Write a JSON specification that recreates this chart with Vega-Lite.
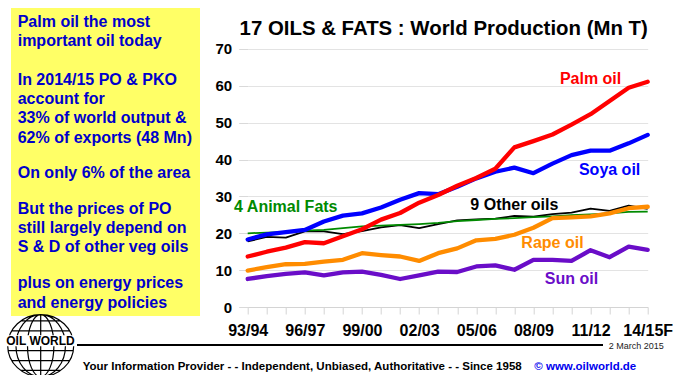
{
  "$schema": "https://vega.github.io/schema/vega-lite/v6.json",
  "padding": {"left": 5, "top": 8, "right": 0, "bottom": 0},
  "background": "white",
  "config": {
    "view": {"stroke": null},
    "font": "Liberation Sans",
    "axis": {"labelFont": "Liberation Sans", "titleFont": "Liberation Sans"},
    "title": {"font": "Liberation Sans"}
  },
  "datasets": {
    "production": [
      {"season":"93/94","oil":"9 Other oils","mt":17.8},{"season":"94/95","oil":"9 Other oils","mt":19.0},{"season":"95/96","oil":"9 Other oils","mt":18.8},{"season":"96/97","oil":"9 Other oils","mt":20.5},{"season":"97/98","oil":"9 Other oils","mt":20.5},{"season":"98/99","oil":"9 Other oils","mt":19.8},{"season":"99/00","oil":"9 Other oils","mt":20.6},{"season":"00/01","oil":"9 Other oils","mt":21.6},{"season":"01/02","oil":"9 Other oils","mt":22.2},{"season":"02/03","oil":"9 Other oils","mt":21.4},{"season":"03/04","oil":"9 Other oils","mt":22.5},{"season":"04/05","oil":"9 Other oils","mt":23.5},{"season":"05/06","oil":"9 Other oils","mt":23.8},{"season":"06/07","oil":"9 Other oils","mt":24.0},{"season":"07/08","oil":"9 Other oils","mt":24.7},{"season":"08/09","oil":"9 Other oils","mt":24.5},{"season":"09/10","oil":"9 Other oils","mt":25.2},{"season":"10/11","oil":"9 Other oils","mt":25.6},{"season":"11/12","oil":"9 Other oils","mt":26.7},{"season":"12/13","oil":"9 Other oils","mt":26.1},{"season":"13/14","oil":"9 Other oils","mt":27.5},{"season":"14/15F","oil":"9 Other oils","mt":26.6},
      {"season":"93/94","oil":"4 Animal Fats","mt":20.0},{"season":"94/95","oil":"4 Animal Fats","mt":20.2},{"season":"95/96","oil":"4 Animal Fats","mt":20.4},{"season":"96/97","oil":"4 Animal Fats","mt":20.7},{"season":"97/98","oil":"4 Animal Fats","mt":20.9},{"season":"98/99","oil":"4 Animal Fats","mt":21.4},{"season":"99/00","oil":"4 Animal Fats","mt":21.9},{"season":"00/01","oil":"4 Animal Fats","mt":22.1},{"season":"01/02","oil":"4 Animal Fats","mt":22.3},{"season":"02/03","oil":"4 Animal Fats","mt":22.5},{"season":"03/04","oil":"4 Animal Fats","mt":22.8},{"season":"04/05","oil":"4 Animal Fats","mt":23.3},{"season":"05/06","oil":"4 Animal Fats","mt":23.6},{"season":"06/07","oil":"4 Animal Fats","mt":23.9},{"season":"07/08","oil":"4 Animal Fats","mt":24.1},{"season":"08/09","oil":"4 Animal Fats","mt":24.4},{"season":"09/10","oil":"4 Animal Fats","mt":24.6},{"season":"10/11","oil":"4 Animal Fats","mt":24.9},{"season":"11/12","oil":"4 Animal Fats","mt":25.1},{"season":"12/13","oil":"4 Animal Fats","mt":25.4},{"season":"13/14","oil":"4 Animal Fats","mt":25.8},{"season":"14/15F","oil":"4 Animal Fats","mt":25.9},
      {"season":"93/94","oil":"Rape oil","mt":9.9},{"season":"94/95","oil":"Rape oil","mt":10.8},{"season":"95/96","oil":"Rape oil","mt":11.6},{"season":"96/97","oil":"Rape oil","mt":11.7},{"season":"97/98","oil":"Rape oil","mt":12.3},{"season":"98/99","oil":"Rape oil","mt":12.8},{"season":"99/00","oil":"Rape oil","mt":14.6},{"season":"00/01","oil":"Rape oil","mt":14.1},{"season":"01/02","oil":"Rape oil","mt":13.7},{"season":"02/03","oil":"Rape oil","mt":12.5},{"season":"03/04","oil":"Rape oil","mt":14.6},{"season":"04/05","oil":"Rape oil","mt":15.9},{"season":"05/06","oil":"Rape oil","mt":18.1},{"season":"06/07","oil":"Rape oil","mt":18.5},{"season":"07/08","oil":"Rape oil","mt":19.6},{"season":"08/09","oil":"Rape oil","mt":21.5},{"season":"09/10","oil":"Rape oil","mt":24.1},{"season":"10/11","oil":"Rape oil","mt":24.3},{"season":"11/12","oil":"Rape oil","mt":24.6},{"season":"12/13","oil":"Rape oil","mt":25.4},{"season":"13/14","oil":"Rape oil","mt":26.8},{"season":"14/15F","oil":"Rape oil","mt":27.2},
      {"season":"93/94","oil":"Sun oil","mt":7.6},{"season":"94/95","oil":"Sun oil","mt":8.4},{"season":"95/96","oil":"Sun oil","mt":9.0},{"season":"96/97","oil":"Sun oil","mt":9.4},{"season":"97/98","oil":"Sun oil","mt":8.6},{"season":"98/99","oil":"Sun oil","mt":9.4},{"season":"99/00","oil":"Sun oil","mt":9.6},{"season":"00/01","oil":"Sun oil","mt":8.7},{"season":"01/02","oil":"Sun oil","mt":7.6},{"season":"02/03","oil":"Sun oil","mt":8.6},{"season":"03/04","oil":"Sun oil","mt":9.6},{"season":"04/05","oil":"Sun oil","mt":9.5},{"season":"05/06","oil":"Sun oil","mt":11.0},{"season":"06/07","oil":"Sun oil","mt":11.3},{"season":"07/08","oil":"Sun oil","mt":10.1},{"season":"08/09","oil":"Sun oil","mt":12.8},{"season":"09/10","oil":"Sun oil","mt":12.8},{"season":"10/11","oil":"Sun oil","mt":12.5},{"season":"11/12","oil":"Sun oil","mt":15.4},{"season":"12/13","oil":"Sun oil","mt":13.5},{"season":"13/14","oil":"Sun oil","mt":16.4},{"season":"14/15F","oil":"Sun oil","mt":15.5},
      {"season":"93/94","oil":"Soya oil","mt":18.3},{"season":"94/95","oil":"Soya oil","mt":19.7},{"season":"95/96","oil":"Soya oil","mt":20.3},{"season":"96/97","oil":"Soya oil","mt":20.9},{"season":"97/98","oil":"Soya oil","mt":23.2},{"season":"98/99","oil":"Soya oil","mt":24.8},{"season":"99/00","oil":"Soya oil","mt":25.4},{"season":"00/01","oil":"Soya oil","mt":27.0},{"season":"01/02","oil":"Soya oil","mt":29.1},{"season":"02/03","oil":"Soya oil","mt":30.9},{"season":"03/04","oil":"Soya oil","mt":30.6},{"season":"04/05","oil":"Soya oil","mt":32.6},{"season":"05/06","oil":"Soya oil","mt":34.9},{"season":"06/07","oil":"Soya oil","mt":36.7},{"season":"07/08","oil":"Soya oil","mt":37.8},{"season":"08/09","oil":"Soya oil","mt":36.3},{"season":"09/10","oil":"Soya oil","mt":38.9},{"season":"10/11","oil":"Soya oil","mt":41.2},{"season":"11/12","oil":"Soya oil","mt":42.4},{"season":"12/13","oil":"Soya oil","mt":42.4},{"season":"13/14","oil":"Soya oil","mt":44.4},{"season":"14/15F","oil":"Soya oil","mt":46.7},
      {"season":"93/94","oil":"Palm oil","mt":13.7},{"season":"94/95","oil":"Palm oil","mt":15.0},{"season":"95/96","oil":"Palm oil","mt":16.1},{"season":"96/97","oil":"Palm oil","mt":17.6},{"season":"97/98","oil":"Palm oil","mt":17.3},{"season":"98/99","oil":"Palm oil","mt":19.2},{"season":"99/00","oil":"Palm oil","mt":21.1},{"season":"00/01","oil":"Palm oil","mt":23.7},{"season":"01/02","oil":"Palm oil","mt":25.5},{"season":"02/03","oil":"Palm oil","mt":28.3},{"season":"03/04","oil":"Palm oil","mt":30.4},{"season":"04/05","oil":"Palm oil","mt":32.9},{"season":"05/06","oil":"Palm oil","mt":35.0},{"season":"06/07","oil":"Palm oil","mt":37.5},{"season":"07/08","oil":"Palm oil","mt":43.3},{"season":"08/09","oil":"Palm oil","mt":45.0},{"season":"09/10","oil":"Palm oil","mt":46.8},{"season":"10/11","oil":"Palm oil","mt":49.5},{"season":"11/12","oil":"Palm oil","mt":52.3},{"season":"12/13","oil":"Palm oil","mt":55.9},{"season":"13/14","oil":"Palm oil","mt":59.5},{"season":"14/15F","oil":"Palm oil","mt":61.1}
    ],
    "labels": [
      {"oil":"Palm oil","season":"11/12","mt":61.9},
      {"oil":"Soya oil","season":"12/13","mt":37.25},
      {"oil":"9 Other oils","season":"07/08","mt":27.75},
      {"oil":"4 Animal Fats","season":"95/96","mt":27.1},
      {"oil":"Rape oil","season":"09/10","mt":17.4},
      {"oil":"Sun oil","season":"10/11","mt":7.7}
    ]
  },
  "bounds": "flush",
  "spacing": 47.7,
  "hconcat": [
    {
      "width": 189,
      "height": 308,
      "view": {"fill": "#ffff66", "stroke": null},
      "data": {"values": [{}]},
      "layer": [
        {
          "mark": {"type": "text", "text": ["Palm oil the most", "important oil today"], "align": "left", "baseline": "middle", "fontSize": 16, "fontWeight": "bold", "font": "Liberation Sans", "color": "#0000cc", "lineHeight": 19.2},
          "encoding": {
            "x": {"datum": 6.7, "type": "quantitative", "scale": {"domain": [0, 189], "nice": false, "zero": false}, "axis": null},
            "y": {"datum": 13.7, "type": "quantitative", "scale": {"domain": [0, 308], "nice": false, "zero": false, "reverse": true}, "axis": null}
          }
        },
        {
          "mark": {"type": "text", "text": ["In 2014/15 PO & PKO", "account for", "33% of world output &", "62% of exports (48 Mn)"], "align": "left", "baseline": "middle", "fontSize": 16, "fontWeight": "bold", "font": "Liberation Sans", "color": "#0000cc", "lineHeight": 19.2},
          "encoding": {"x": {"datum": 6.7, "type": "quantitative"}, "y": {"datum": 72.0, "type": "quantitative"}}
        },
        {
          "mark": {"type": "text", "text": "On only 6% of the area", "align": "left", "baseline": "middle", "fontSize": 16, "fontWeight": "bold", "font": "Liberation Sans", "color": "#0000cc"},
          "encoding": {"x": {"datum": 6.7, "type": "quantitative"}, "y": {"datum": 165.0, "type": "quantitative"}}
        },
        {
          "mark": {"type": "text", "text": ["But the prices of PO", "still largely depend on", "S & D of other veg oils"], "align": "left", "baseline": "middle", "fontSize": 16, "fontWeight": "bold", "font": "Liberation Sans", "color": "#0000cc", "lineHeight": 19.2},
          "encoding": {"x": {"datum": 6.7, "type": "quantitative"}, "y": {"datum": 201.0, "type": "quantitative"}}
        },
        {
          "mark": {"type": "text", "text": ["plus on energy prices", "and energy policies"], "align": "left", "baseline": "middle", "fontSize": 16, "fontWeight": "bold", "font": "Liberation Sans", "color": "#0000cc", "lineHeight": 19.2},
          "encoding": {"x": {"datum": 6.7, "type": "quantitative"}, "y": {"datum": 275.4, "type": "quantitative"}}
        },
        {
          "mark": {
            "type": "point",
            "shape": "M-1,0A1,0.94,0,1,1,1,0A1,0.94,0,1,1,-1,0ZM0,-0.94L0,0.94M0,-0.94A0.4,0.94,0,0,0,0,0.94A0.4,0.94,0,0,0,0,-0.94M0,-0.94A0.75,0.94,0,0,0,0,0.94A0.75,0.94,0,0,0,0,-0.94M-0.6,-0.75L0.6,-0.75M-0.88,-0.45L0.88,-0.45M-0.988,-0.15L0.988,-0.15M-0.988,0.15L0.988,0.15M-0.88,0.45L0.88,0.45M-0.6,0.75L0.6,0.75",
            "size": 4356,
            "filled": false,
            "color": "#000000",
            "strokeWidth": 1.2,
            "opacity": 1
          },
          "encoding": {"x": {"datum": 29.7, "type": "quantitative"}, "y": {"datum": 337.7, "type": "quantitative"}}
        },
        {
          "mark": {"type": "point", "shape": "M-1,-0.16L1,-0.16L1,0.16L-1,0.16Z", "size": 4761, "filled": true, "color": "#ffffff", "opacity": 1, "strokeWidth": 0},
          "encoding": {"x": {"datum": 29.5, "type": "quantitative"}, "y": {"datum": 332.7, "type": "quantitative"}}
        },
        {
          "mark": {"type": "text", "text": "OIL WORLD", "align": "center", "baseline": "middle", "fontSize": 12, "fontWeight": "bold", "font": "Liberation Sans", "color": "#000000"},
          "encoding": {"x": {"datum": 29.5, "type": "quantitative"}, "y": {"datum": 333.2, "type": "quantitative"}}
        },
        {
          "mark": {"type": "rule", "color": "#000000", "strokeWidth": 2},
          "encoding": {"x": {"datum": 66, "type": "quantitative"}, "x2": {"datum": 592}, "y": {"datum": 337, "type": "quantitative"}}
        },
        {
          "mark": {"type": "text", "text": "2 March 2015", "align": "left", "baseline": "middle", "fontSize": 9, "font": "Liberation Sans", "color": "#222222"},
          "encoding": {"x": {"datum": 597.7, "type": "quantitative"}, "y": {"datum": 337.7, "type": "quantitative"}}
        },
        {
          "mark": {"type": "text", "text": "Your Information Provider - - Independent, Unbiased, Authoritative - - Since 1958", "align": "left", "baseline": "middle", "fontSize": 11.5, "fontWeight": "bold", "font": "Liberation Sans", "color": "#000000"},
          "encoding": {"x": {"datum": 71.7, "type": "quantitative"}, "y": {"datum": 358.7, "type": "quantitative"}}
        },
        {
          "mark": {"type": "text", "text": "© www.oilworld.de", "align": "left", "baseline": "middle", "fontSize": 11.5, "fontWeight": "bold", "font": "Liberation Sans", "color": "#0000ee"},
          "encoding": {"x": {"datum": 523.3, "type": "quantitative"}, "y": {"datum": 358.7, "type": "quantitative"}}
        }
      ]
    },
    {
      "width": 400,
      "height": 299,
      "view": {"stroke": null},
      "title": {
        "text": "17 OILS & FATS : World Production (Mn T)",
        "fontSize": 20.4,
        "fontWeight": "bold",
        "font": "Liberation Sans",
        "color": "#000000",
        "offset": -31,
        "dx": -4,
        "anchor": "middle"
      },
      "encoding": {
        "x": {
          "field": "season",
          "type": "ordinal",
          "scale": {"type": "point", "padding": 0, "domain": ["93/94","94/95","95/96","96/97","97/98","98/99","99/00","00/01","01/02","02/03","03/04","04/05","05/06","06/07","07/08","08/09","09/10","10/11","11/12","12/13","13/14","14/15F"]},
          "axis": {
            "title": null,
            "labelAngle": 0,
            "labelExpr": "indexof(['93/94','96/97','99/00','02/03','05/06','08/09','11/12','14/15F'], datum.value) >= 0 ? datum.value : ''",
            "labelOverlap": false,
            "labelFontSize": 16,
            "labelFontWeight": "bold",
            "labelColor": "#000000",
            "labelPadding": 8,
            "tickSize": 7,
            "tickColor": "#d4d4d4",
            "domainColor": "#d4d4d4",
            "grid": false
          }
        },
        "y": {
          "field": "mt",
          "type": "quantitative",
          "scale": {"domain": [0, 81.12], "nice": false},
          "axis": {
            "title": null,
            "values": [0, 10, 20, 30, 40, 50, 60, 70],
            "labelFontSize": 15,
            "labelFontWeight": "bold",
            "labelColor": "#000000",
            "labelPadding": 7,
            "labelFlush": false,
            "tickSize": 9,
            "tickColor": "#d9d9d9",
            "domain": false,
            "gridColor": "#e3e3e3",
            "grid": true
          }
        },
        "color": {
          "field": "oil",
          "type": "nominal",
          "scale": {
            "domain": ["Palm oil", "Soya oil", "Rape oil", "Sun oil", "4 Animal Fats", "9 Other oils"],
            "range": ["#ff0000", "#0000ff", "#ff8c00", "#6a0dc8", "#008a00", "#000000"]
          },
          "legend": null
        }
      },
      "layer": [
        {
          "data": {"values": [{}]},
          "mark": {"type": "rule", "strokeWidth": 1},
          "encoding": {
            "x": {"datum": "93/94", "type": "ordinal"},
            "y": {"datum": 0, "type": "quantitative"},
            "y2": {"datum": 70},
            "color": {"value": "#d9d9d9"}
          }
        },
        {
          "data": {"name": "production"},
          "transform": [{"filter": {"field": "oil", "oneOf": ["9 Other oils", "4 Animal Fats"]}}],
          "mark": {"type": "line", "strokeWidth": 1.8, "strokeJoin": "round"}
        },
        {
          "data": {"name": "production"},
          "transform": [{"filter": {"field": "oil", "oneOf": ["Rape oil", "Sun oil", "Soya oil", "Palm oil"]}}],
          "mark": {"type": "line", "strokeJoin": "round", "strokeCap": "round"},
          "encoding": {
            "strokeWidth": {"field": "oil", "type": "nominal", "scale": {"domain": ["Rape oil", "Sun oil", "Soya oil", "Palm oil"], "range": [4.3, 4.3, 5, 4.5]}, "legend": null}
          }
        },
        {
          "data": {"name": "labels"},
          "mark": {"type": "text", "align": "center", "baseline": "middle", "fontSize": 16, "fontWeight": "bold", "font": "Liberation Sans"},
          "encoding": {"text": {"field": "oil"}}
        }
      ]
    }
  ]
}
